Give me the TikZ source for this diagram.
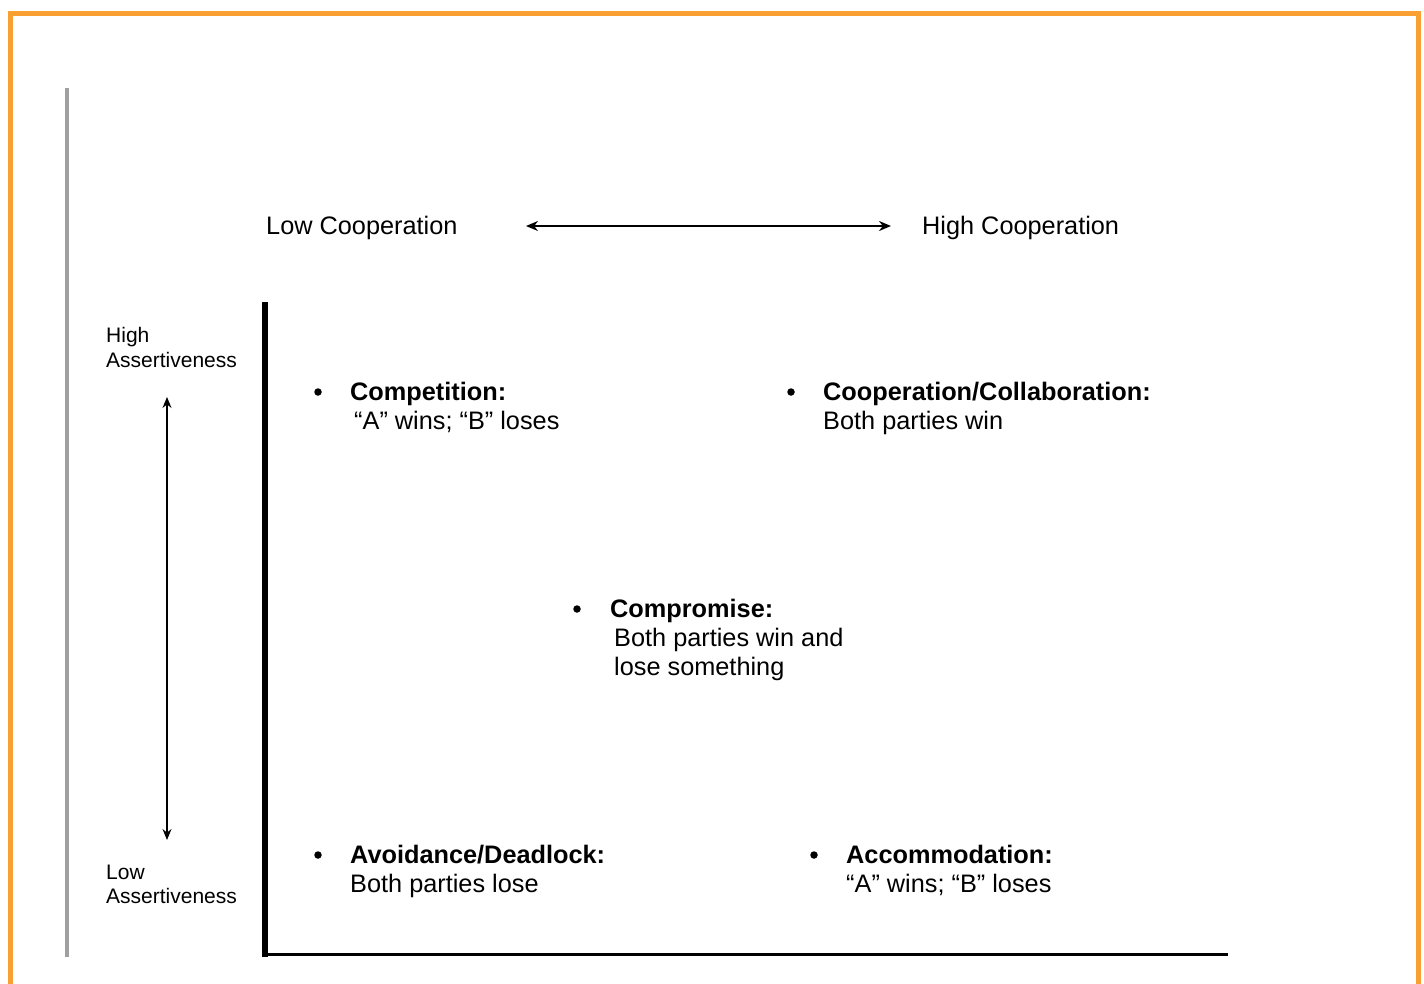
\documentclass[tikz,border=0pt]{standalone}
\usepackage{fontspec}
\setmainfont{Liberation Sans}
\usetikzlibrary{arrows.meta}
\definecolor{frameorange}{RGB}{250,160,50}
\definecolor{sidegray}{RGB}{160,160,160}
\begin{document}
\begin{tikzpicture}[x=1pt,y=-1pt,
  txt/.style={anchor=base west,inner sep=0pt,font=\fontsize{25.3}{29}\selectfont},
  head/.style={txt,font=\fontsize{25.3}{29}\selectfont\bfseries},
  side/.style={anchor=base west,inner sep=0pt,font=\fontsize{21}{24}\selectfont},
  bulletdot/.style={circle,fill=black,inner sep=0pt,minimum size=7.5pt},
  axis/.style={line width=#1,black},
  dblarrow/.style={{Stealth[length=12pt,width=10pt]}-{Stealth[length=12pt,width=10pt]},line width=1.8pt}
]
\useasboundingbox (0,0) rectangle (1424,983);

% outer frame (open at the bottom)
\draw[frameorange,line width=5pt] (10.5,990) -- (10.5,13.5) -- (1418,13.5) -- (1418,990);

% thin gray rule on the left
\draw[sidegray,line width=4pt] (66.5,88) -- (66.5,957);

% main axes
\draw[axis=6pt] (265,302) -- (265,957);
\draw[axis=3pt] (262,954.5) -- (1228,954.5);

% cooperation scale
\node[txt] (lowcoop) at (266,234.5) {Low Cooperation};
\node[txt] (highcoop) at (922,234.5) {High Cooperation};
\coordinate (coopL) at (526,226);
\coordinate (coopR) at (891,226);
\draw[dblarrow] (coopL) -- (coopR);

% assertiveness scale
\node[side] (hiA1) at (106,342) {High};
\node[side] (hiA2) at (106,367) {Assertiveness};
\node[side] (loA1) at (106,879) {Low};
\node[side] (loA2) at (106,903) {Assertiveness};
\coordinate (assT) at (167,397);
\coordinate (assB) at (167,840);
\draw[{Stealth[length=11pt,width=9pt]}-{Stealth[length=11pt,width=9pt]},line width=1.3pt] (assT) -- (assB);

% competition
\node[bulletdot] (b1) at (318,392) {};
\node[head] (comp1) at (350,400) {Competition:};
\node[txt] (comp2) at (354,429) {“A” wins; “B” loses};

% cooperation / collaboration
\node[bulletdot] (b2) at (791,392) {};
\node[head] (coll1) at (823,400) {Cooperation/Collaboration:};
\node[txt] (coll2) at (823,429) {Both parties win};

% compromise
\node[bulletdot] (b3) at (577,609) {};
\node[head] (cmp1) at (610,617) {Compromise:};
\node[txt] (cmp2) at (614,646) {Both parties win and};
\node[txt] (cmp3) at (614,675) {lose something};

% avoidance / deadlock
\node[bulletdot] (b4) at (318,855) {};
\node[head] (avo1) at (350,863) {Avoidance/Deadlock:};
\node[txt] (avo2) at (350,892) {Both parties lose};

% accommodation
\node[bulletdot] (b5) at (814,855) {};
\node[head] (acc1) at (846,863) {Accommodation:};
\node[txt] (acc2) at (846,892) {“A” wins; “B” loses};
\end{tikzpicture}
\end{document}
